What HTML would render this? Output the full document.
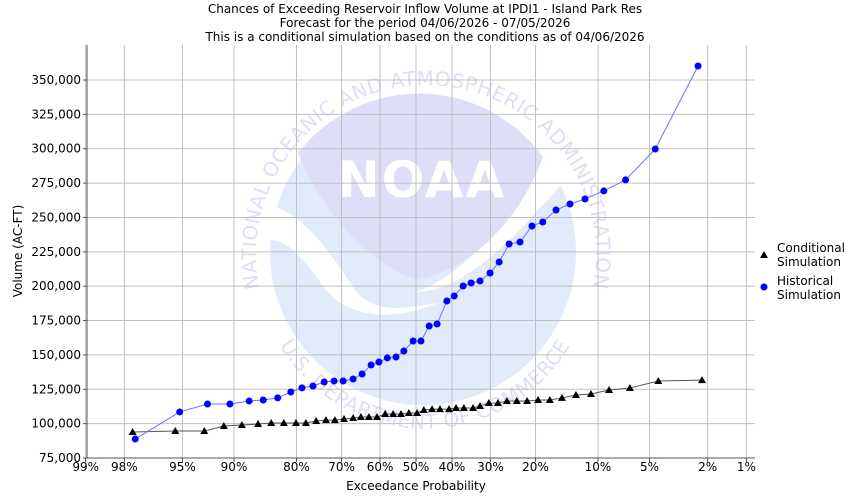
<!DOCTYPE html>
<html><head><meta charset="utf-8"><style>
html,body{margin:0;padding:0;background:#fff;}
svg{display:block;font-family:"DejaVu Sans","Liberation Sans",sans-serif;}
</style></head><body>
<svg id="chart" width="850" height="500" viewBox="0 0 850 500">
<g font-size="12" text-anchor="middle" fill="#000">
<text x="425" y="13">Chances of Exceeding Reservoir Inflow Volume at IPDI1 - Island Park Res</text>
<text x="425" y="27">Forecast for the period 04/06/2026 - 07/05/2026</text>
<text x="425" y="41">This is a conditional simulation based on the conditions as of 04/06/2026</text>
</g>
<g id="logo">
<defs>
<path id="arcTop" d="M262,300 A170,170 0 1 1 590,300"/>
<path id="arcBot" d="M272,330 A168,168 0 0 0 578,330"/>
</defs>
<circle cx="423" cy="252" r="153" fill="#e1ebfb"/>
<path d="M268,205 C305,212 335,260 355,290 C370,310 395,312 440,302 C395,322 350,318 328,292 C305,262 290,240 270,240 Z" fill="#fff"/>
<path d="M543,157 L563,183 C520,230 470,290 417,292 C470,270 510,220 543,157 Z" fill="#fff"/>
<path d="M298,153 A153,153 0 0 1 543,157 C520,220 470,270 417,280 C370,265 320,210 298,153 Z" fill="#dedef8"/>
<text x="422" y="197" font-size="50" font-weight="bold" text-anchor="middle" fill="#fff" letter-spacing="2">NOAA</text>
<text font-size="20" fill="#dedef5" letter-spacing="0.5"><textPath href="#arcTop" startOffset="50%" text-anchor="middle">NATIONAL OCEANIC AND ATMOSPHERIC ADMINISTRATION</textPath></text>
<text font-size="20" fill="#dedef5" letter-spacing="0.5"><textPath href="#arcBot" startOffset="50%" text-anchor="middle">U.S. DEPARTMENT OF COMMERCE</textPath></text>
</g>
<g id="grid"></g>
<g id="axes"></g>
<g id="series"></g>
<text x="416" y="490" font-size="12" text-anchor="middle">Exceedance Probability</text>
<text transform="translate(22,251) rotate(-90)" font-size="12" text-anchor="middle">Volume (AC-FT)</text>
<g font-size="12">
<g>
<polygon points="764,251 768,258 760,258" fill="#000"/>
<text x="777" y="252">Conditional</text><text x="777" y="266">Simulation</text>
</g>
<g>
<circle cx="764" cy="287" r="3.5" fill="#0000ff"/>
<text x="777" y="285">Historical</text><text x="777" y="299">Simulation</text>
</g>
</g>
</svg>
<script>
const xTickProbs=[99,98,95,90,80,70,60,50,40,30,20,10,5,2,1];
const yTicks=[75000,100000,125000,150000,175000,200000,225000,250000,275000,300000,325000,350000];
const histProb=[0.976,0.952,0.929,0.905,0.880,0.859,0.835,0.811,0.789,0.766,0.741,0.718,0.696,0.671,0.648,0.624,0.603,0.580,0.556,0.534,0.508,0.486,0.463,0.441,0.414,0.394,0.370,0.349,0.326,0.301,0.279,0.256,0.232,0.207,0.186,0.162,0.139,0.117,0.093,0.070,0.046,0.0235];
const histVal=[88800,108500,114300,114300,116500,117200,118700,123000,126000,127400,130300,131000,131000,132500,136100,142700,144800,147800,148500,152800,160100,160100,171000,172500,189200,192900,200100,202300,203800,209600,217600,230700,232100,243800,246700,255400,259800,263400,269300,277300,299800,360200];
const condProb=[0.977,0.955,0.932,0.912,0.890,0.867,0.846,0.824,0.801,0.781,0.759,0.737,0.716,0.694,0.671,0.651,0.630,0.608,0.586,0.564,0.542,0.520,0.497,0.478,0.455,0.433,0.408,0.389,0.368,0.344,0.326,0.304,0.282,0.261,0.239,0.217,0.195,0.173,0.152,0.130,0.109,0.087,0.066,0.044,0.022];
const condVal=[93900,94600,94600,98300,99000,99700,100500,100500,100500,100500,101900,102600,102600,103400,104100,104800,104800,104800,107000,107000,107000,107700,107700,109900,110600,110600,110600,111400,111400,111400,112800,115000,115000,116500,116500,116500,117200,117200,118700,120800,121600,124500,125900,131000,131700];
const NS='http://www.w3.org/2000/svg';
const L=87,R=755,T=45,B=458,Y0=75000,Y1=350000,Y1px=80;
function invNorm(p){const a=[-39.6968302866538,220.946098424521,-275.928510446969,138.357751867269,-30.6647980661472,2.50662827745924],b=[-54.4760987982241,161.585836858041,-155.698979859887,66.8013118877197,-13.2806815528857],c=[-0.00778489400243029,-0.322396458041136,-2.40075827716184,-2.54973253934373,4.37466414146497,2.93816398269878],d=[0.00778469570904146,0.32246712907004,2.445134137143,3.75440866190742];let q,r;if(p<0.02425){q=Math.sqrt(-2*Math.log(p));return(((((c[0]*q+c[1])*q+c[2])*q+c[3])*q+c[4])*q+c[5])/((((d[0]*q+d[1])*q+d[2])*q+d[3])*q+1);}if(p>1-0.02425){q=Math.sqrt(-2*Math.log(1-p));return-(((((c[0]*q+c[1])*q+c[2])*q+c[3])*q+c[4])*q+c[5])/((((d[0]*q+d[1])*q+d[2])*q+d[3])*q+1);}q=p-0.5;r=q*q;return(((((a[0]*r+a[1])*r+a[2])*r+a[3])*r+a[4])*r+a[5])*q/(((((b[0]*r+b[1])*r+b[2])*r+b[3])*r+b[4])*r+1);}
function xs(p){return 416-142*invNorm(p);}
function ys(v){return B-(v-Y0)*(B-Y1px)/(Y1-Y0);}
function mk(tag,attrs,parent){const e=document.createElementNS(NS,tag);for(const k in attrs)e.setAttribute(k,attrs[k]);parent.appendChild(e);return e;}
const grid=document.getElementById('grid'),axes=document.getElementById('axes'),series=document.getElementById('series');
xTickProbs.forEach(t=>{const x=xs(t/100);
 const g=mk('line',{x1:x,x2:x,y1:T,y2:B,stroke:'#c0c0c0','stroke-width':1},grid);
 
 
 const tk=mk('line',{x1:x,x2:x,y1:B,y2:B+4,stroke:'#555'},axes);
 
 
 const tx=mk('text',{x:x,y:471,'font-size':12,'text-anchor':'middle'},axes);tx.textContent=t+'%';
 
 
});
yTicks.forEach(v=>{const y=ys(v);
 const g=mk('line',{x1:L,x2:R,y1:y,y2:y,stroke:'#c0c0c0','stroke-width':1},grid);
 
 
 const tk=mk('line',{x1:L-4,x2:L,y1:y,y2:y,stroke:'#555'},axes);
 
 
 const tx=mk('text',{x:L-6,y:y+4,'font-size':12,'text-anchor':'end'},axes);tx.textContent=v.toLocaleString('en-US');
 
 
});
const ax=mk('path',{d:`M${L},${T}V${B}H${R}`,fill:'none',stroke:'#555'},axes);


const cl=mk('polyline',{points:condProb.map((p,i)=>xs(p)+','+ys(condVal[i])).join(' '),fill:'none',stroke:'#555','stroke-width':1},series);


const hl=mk('polyline',{points:histProb.map((p,i)=>xs(p)+','+ys(histVal[i])).join(' '),fill:'none',stroke:'#7070ff','stroke-width':1},series);


condProb.forEach((p,i)=>{const x=xs(p),y=ys(condVal[i]);
 const m=mk('polygon',{points:`${x},${y-4} ${x+4},${y+3} ${x-4},${y+3}`,fill:'#000'},series);
 
 
});
histProb.forEach((p,i)=>{
 const m=mk('circle',{cx:xs(p),cy:ys(histVal[i]),r:3.5,fill:'#0000ff'},series);
 
 
});
</script>
</body></html>
